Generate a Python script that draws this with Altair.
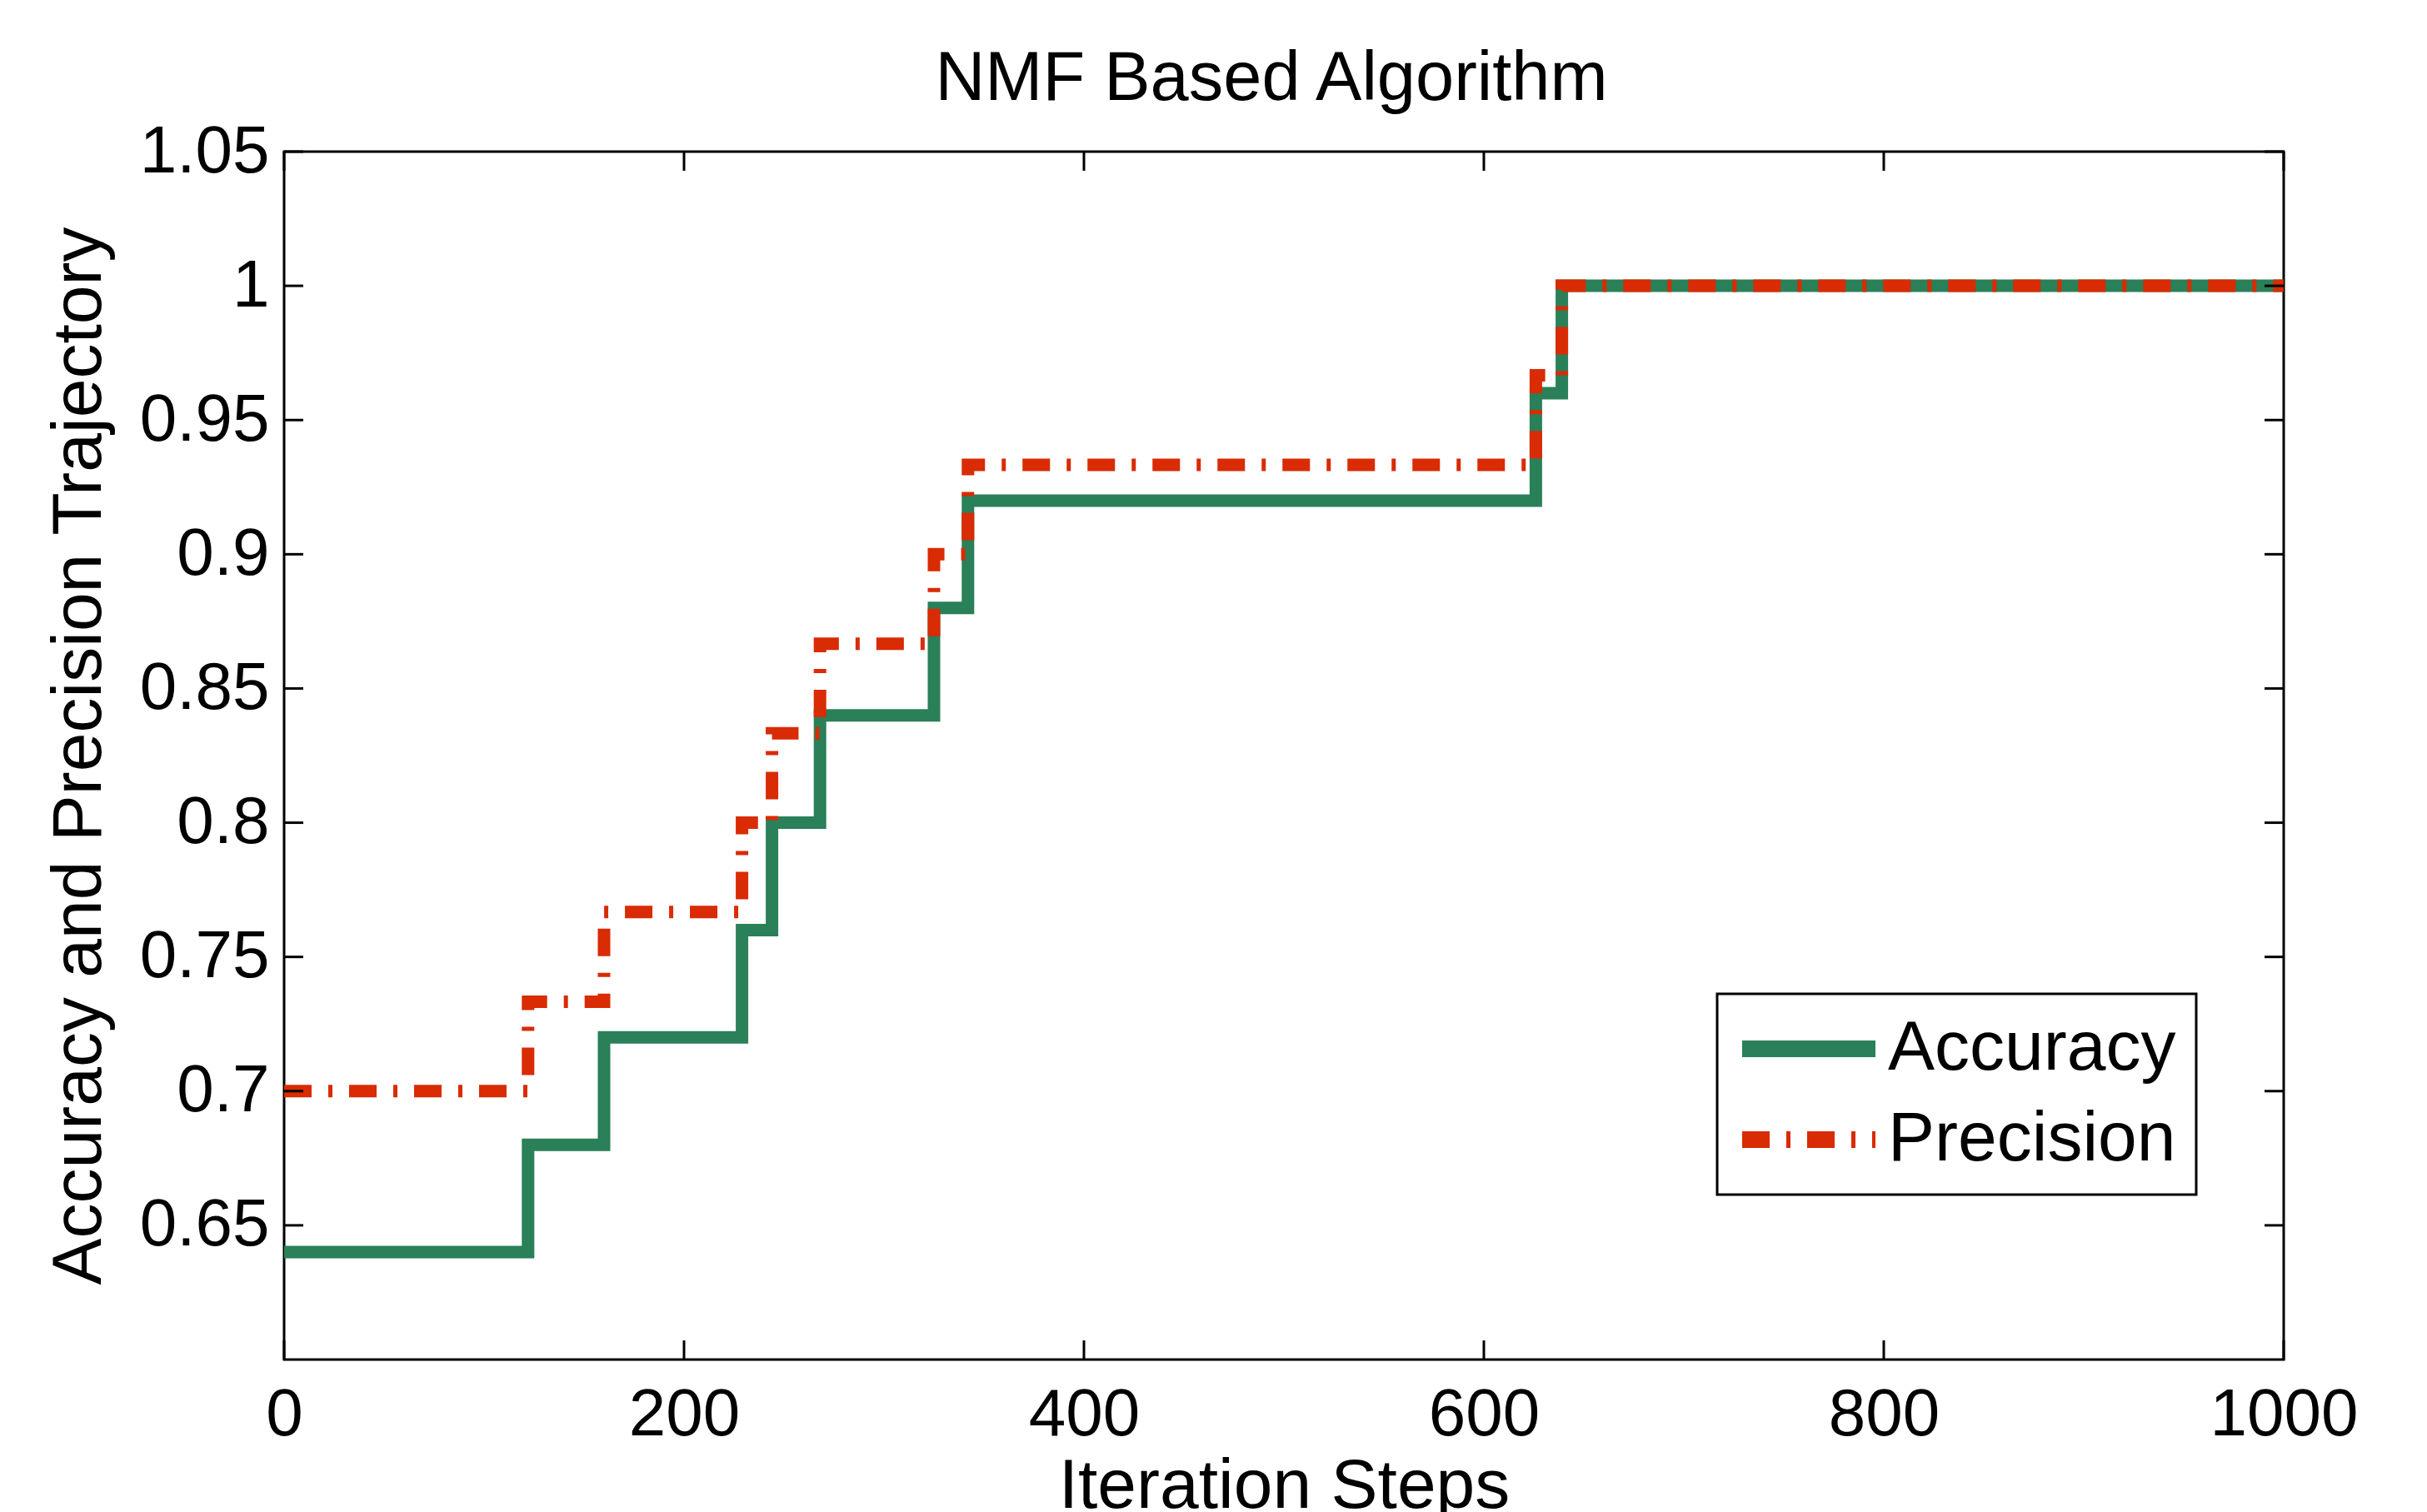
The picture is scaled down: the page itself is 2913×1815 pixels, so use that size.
import altair as alt
import pandas as pd

# ---- data ----
step_x = [0, 122, 160, 229, 244, 268, 325, 342, 626, 639, 1000]
accuracy = [0.64, 0.68, 0.72, 0.76, 0.80, 0.84, 0.88, 0.92, 0.96, 1.00, 1.00]
precision = [0.70, 0.7333, 0.7667, 0.80, 0.8333, 0.8667, 0.90, 0.9333, 0.9667, 1.00, 1.00]
series_names = ["Accuracy", "Precision"]
series_colors = ["#2a8058", "#d92b04"]
x_ticks = [0, 200, 400, 600, 800, 1000]
y_ticks = [0.65, 0.70, 0.75, 0.80, 0.85, 0.90, 0.95, 1.00, 1.05]

rows = []
for xv, a in zip(step_x, accuracy):
    rows.append({"x": xv, "y": a, "series": "Accuracy"})
for xv, p in zip(step_x, precision):
    rows.append({"x": xv, "y": p, "series": "Precision"})
df = pd.DataFrame(rows)
xt = pd.DataFrame({"x": x_ticks})
yt = pd.DataFrame({"y": y_ticks})

W, H = 2400, 1450
FONT = "Liberation Sans"
TICK = 23

xenc = alt.X(
    "x:Q",
    scale=alt.Scale(domain=[0, 1000], nice=False, zero=False),
    axis=alt.Axis(values=x_ticks, format="d", title="Iteration Steps", labelPadding=27,
                  titleX=W / 2, titleY=177, titleBaseline="alphabetic",
                  labelFlush=False, labelOverlap=False, labelLimit=400),
)
yenc = alt.Y(
    "y:Q",
    scale=alt.Scale(domain=[0.6, 1.05], nice=False, zero=False),
    axis=alt.Axis(values=y_ticks, format="~g",
                  title="Accuracy and Precision Trajectory", labelPadding=18,
                  titleX=-221, titleY=H / 2, titleBaseline="alphabetic",
                  labelOverlap=False, labelLimit=400),
)

lines = alt.Chart(df).mark_line(interpolate="step-after", strokeWidth=15).encode(
    x=xenc,
    y=yenc,
    color=alt.Color("series:N",
                    scale=alt.Scale(domain=series_names, range=series_colors),
                    legend=alt.Legend(title=None)),
    strokeDash=alt.StrokeDash("series:N",
                              scale=alt.Scale(domain=series_names,
                                              range=[[1, 0], [33, 20, 5, 20]]),
                              legend=alt.Legend(title=None)),
)

bottom_ticks = alt.Chart(xt).mark_rule(color="black", strokeWidth=3).encode(
    x=xenc, y=alt.value(H), y2=alt.value(H - TICK))
top_ticks = alt.Chart(xt).mark_rule(color="black", strokeWidth=3).encode(
    x=xenc, y=alt.value(0), y2=alt.value(TICK))
left_ticks = alt.Chart(yt).mark_rule(color="black", strokeWidth=3).encode(
    y=yenc, x=alt.value(0), x2=alt.value(TICK))
right_ticks = alt.Chart(yt).mark_rule(color="black", strokeWidth=3).encode(
    y=yenc, x=alt.value(W), x2=alt.value(W - TICK))

chart = (
    alt.layer(lines, bottom_ticks, top_ticks, left_ticks, right_ticks)
    .properties(
        width=W,
        height=H,
        autosize="none",
        padding={"left": 333, "top": 174, "right": 160, "bottom": 200},
        title=alt.Title("NMF Based Algorithm", fontSize=83, fontWeight="normal",
                        font=FONT, color="black", anchor="middle", frame="group",
                        baseline="alphabetic", offset=63, dx=-15, dy=124),
        background="white",
    )
    .configure_view(stroke="black", strokeWidth=3)
    .configure_axis(
        labelFont=FONT, labelFontSize=80, labelColor="black",
        titleFont=FONT, titleFontSize=84, titleFontWeight="normal", titleColor="black",
        ticks=False, domain=False, grid=False,
    )
    .configure_legend(
        orient="none", legendX=1720, legendY=1011,
        strokeColor="black", strokeWidth=3, fillColor="white",
        padding=24, symbolOffset=-4,
        symbolType="stroke", symbolSize=25600, symbolStrokeWidth=20,
        labelFont=FONT, labelFontSize=84, labelColor="black", labelLimit=600,
        labelOffset=5, rowPadding=25, clipHeight=84,
    )
)

chart.save("out.html", embed_options={"renderer": "svg", "actions": False})
